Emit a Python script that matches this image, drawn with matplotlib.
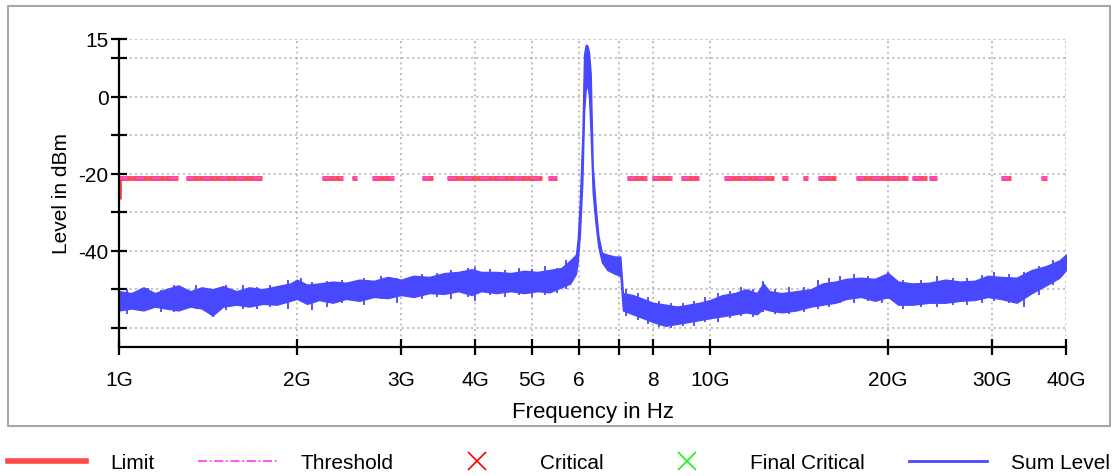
import matplotlib
matplotlib.use('Agg')
import matplotlib.pyplot as plt
from matplotlib.lines import Line2D
from matplotlib.patches import Rectangle

plt.rcParams['font.family'] = ['Liberation Sans', 'DejaVu Sans']

# Sum level envelope (frequency in GHz, upper / lower edge of the noisy trace in dBm)
freq_ghz = [1.00, 1.05, 1.10, 1.15, 1.20, 1.26, 1.32, 1.38, 1.44, 1.50,
            1.58, 1.66, 1.75, 1.85, 1.95, 2.00, 2.08, 2.18, 2.30, 2.42,
            2.55, 2.70, 2.85, 3.00, 3.15, 3.35, 3.55, 3.75, 3.95, 4.10,
            4.35, 4.60, 4.85, 5.10, 5.35, 5.60, 5.80, 5.93, 5.97, 6.02,
            6.08, 6.12, 6.16, 6.20, 6.24, 6.28, 6.33, 6.40, 6.47, 6.56,
            6.70, 6.90, 7.05, 7.12, 7.40, 7.70, 8.00, 8.40, 8.80, 9.20,
            9.60, 10.0, 10.5, 11.0, 11.5, 12.0, 12.3, 12.6, 13.2, 14.0,
            14.8, 15.5, 16.3, 17.0, 18.0, 19.0, 20.0, 20.8, 22.0, 23.5,
            25.0, 26.5, 28.0, 29.5, 31.0, 33.0, 35.0, 37.0, 39.0, 40.0]
sum_upper = [-50.5, -51.0, -49.5, -51.0, -50.0, -49.0, -50.5, -49.5, -50.0, -49.2,
             -50.5, -49.5, -50.0, -49.2, -48.5, -47.5, -48.8, -48.5, -48.0, -48.3,
             -47.5, -47.8, -46.8, -47.5, -46.5, -46.8, -45.8, -45.5, -44.8, -45.5,
             -45.5, -45.8, -45.2, -45.5, -45.0, -44.5, -42.5, -41.0, -37.0, -27.0,
             -10.0, 11.0, 13.5, 13.3, 11.5, 6.0, -18.0, -28.0, -36.0, -40.5,
             -41.0, -41.5, -41.5, -51.0, -51.5, -52.5, -53.5, -54.0, -54.5, -54.0,
             -53.5, -52.8, -51.5, -51.0, -50.0, -51.0, -48.5, -50.5, -51.0, -50.5,
             -50.0, -48.5, -48.0, -47.3, -47.0, -47.3, -45.8, -48.0, -48.5, -48.3,
             -47.5, -48.0, -47.8, -46.5, -46.8, -47.0, -45.0, -44.0, -42.5, -41.0]
sum_lower = [-55.5, -55.0, -55.5, -54.5, -55.0, -55.5, -54.5, -55.0, -56.8, -54.5,
             -54.0, -54.5, -53.8, -54.0, -53.0, -52.5, -53.8, -52.8, -53.5, -52.5,
             -53.0, -52.0, -52.3, -51.5, -52.0, -51.0, -51.2, -50.5, -51.5, -50.5,
             -51.0, -50.5, -51.0, -50.5, -50.8, -49.5, -48.5, -46.0, -43.0, -36.0,
             -22.0, -4.0, 2.0, 3.0, 0.0, -10.0, -25.0, -33.0, -39.0, -43.0,
             -45.0, -46.0, -46.5, -55.5, -56.5, -57.5, -58.5, -59.5, -59.0, -58.5,
             -58.0, -57.5, -57.0, -56.5, -56.0, -56.5, -55.0, -55.5, -56.0, -55.5,
             -54.5, -54.0, -53.5, -52.5, -52.0, -53.0, -52.0, -54.0, -54.0, -53.5,
             -53.5, -53.0, -52.8, -52.0, -52.5, -53.5, -51.0, -49.0, -47.0, -45.0]

# single noise spikes standing out of the band (GHz, bottom, top in dBm)
spike_ghz = [1.03, 1.12, 1.18, 1.24, 1.35, 1.44, 1.52, 1.62, 1.71, 1.80,
             1.93, 2.03, 2.12, 2.25, 2.38, 2.60, 2.78, 2.95, 3.25, 3.45,
             3.65, 3.90, 4.00, 4.25, 4.50, 4.75, 5.00, 5.25, 5.50, 5.70,
             7.20, 7.55, 7.85, 8.20, 8.60, 9.00, 9.40, 9.80, 10.3, 10.8,
             11.3, 11.8, 12.3, 12.9, 13.6, 14.4, 15.2, 15.9, 16.6, 17.5,
             18.5, 19.5, 20.0, 21.2, 22.7, 24.2, 25.8, 27.2, 28.8, 30.2,
             32.0, 34.0, 36.0, 38.0]
spike_low = [-56.5, -55.0, -56.0, -55.8, -55.0, -57.2, -55.5, -55.0, -55.0, -54.5,
             -55.0, -53.0, -55.5, -54.5, -53.5, -54.0, -52.5, -53.5, -52.5, -52.0,
             -52.5, -52.0, -53.0, -51.5, -52.0, -51.5, -52.0, -51.5, -51.0, -50.0,
             -57.0, -58.0, -59.0, -59.8, -60.0, -59.5, -59.5, -58.5, -58.5, -57.5,
             -57.0, -57.2, -56.0, -56.5, -56.5, -56.0, -55.0, -54.5, -53.5, -53.5,
             -53.0, -53.5, -52.5, -55.0, -54.5, -54.5, -54.0, -54.0, -53.5, -53.0,
             -53.5, -54.5, -51.5, -49.0]
spike_high = [-50.0, -49.8, -50.2, -49.0, -48.8, -50.0, -49.0, -49.0, -49.5, -48.8,
              -47.5, -47.2, -48.0, -47.8, -47.5, -47.0, -46.5, -47.0, -46.0, -45.8,
              -45.0, -44.5, -44.2, -44.8, -45.0, -44.5, -44.8, -44.0, -44.5, -42.5,
              -50.0, -51.0, -52.0, -53.0, -53.5, -53.5, -53.0, -52.0, -51.0, -50.5,
              -49.5, -50.0, -47.8, -50.0, -49.5, -49.5, -47.5, -47.0, -46.5, -46.0,
              -46.5, -46.5, -45.5, -47.5, -47.5, -46.5, -47.0, -47.0, -46.3, -45.5,
              -46.0, -45.5, -44.0, -42.5]

# Limit / threshold line pieces (GHz)
limit_level = -21
limit_start_level = -26.5
seg_start = [1.00, 1.298, 2.205, 2.479, 2.679, 3.255, 3.588, 5.318, 7.236, 7.976,
             8.930, 10.56, 13.23, 14.36, 15.23, 17.66, 21.96, 23.46, 31.05, 36.29]
seg_stop = [1.258, 1.746, 2.393, 2.527, 2.919, 3.398, 5.195, 5.508, 7.823, 8.624,
            9.577, 12.83, 13.55, 14.64, 16.33, 21.62, 23.28, 24.20, 32.29, 37.15]

x_ticks = [1, 2, 3, 4, 5, 6, 7, 8, 10, 20, 30, 40]
x_labels = ['1G', '2G', '3G', '4G', '5G', '6', '', '8', '10G', '20G', '30G', '40G']
y_ticks = [15, 10, 0, -10, -20, -30, -40, -50, -60]
y_labels = ['15', '', '0', '', '-20', '', '-40', '', '']

red = '#ff4848'
magenta = '#ff44ff'
blue = '#4848ff'

fig = plt.figure(figsize=(11.18, 4.77), dpi=100)
fig.patches.append(Rectangle((8 / 1118, 1 - 427 / 477), 1102 / 1118, 420 / 477,
                             transform=fig.transFigure, fill=False,
                             edgecolor='#a8a8a8', linewidth=1.5))
ax = fig.add_axes([119 / 1118, 1 - 348 / 477, 947 / 1118, 308 / 477])

hz = [f * 1e9 for f in freq_ghz]
ax.fill_between(hz, sum_lower, sum_upper, color=blue, linewidth=1.0, edgecolor=blue)
ax.vlines([f * 1e9 for f in spike_ghz], spike_low, spike_high, color=blue, lw=1.3)

# limit with threshold on top
ax.plot([1e9, 1e9], [limit_start_level, limit_level], color=red, lw=3.5,
        solid_capstyle='butt')
ax.plot([1e9, 1e9], [limit_start_level, limit_level], color=magenta, lw=1.5,
        dashes=(4, 1.5, 1, 1.5))
for a, b in zip(seg_start, seg_stop):
    ax.plot([a * 1e9, b * 1e9], [limit_level, limit_level], color=red, lw=3.5,
            solid_capstyle='butt')
    ax.plot([a * 1e9, b * 1e9], [limit_level, limit_level], color=magenta, lw=1.5,
            dashes=(4, 1.5, 1, 1.5))

ax.set_xscale('log')
ax.set_xlim(1e9, 40e9)
ax.set_ylim(-65, 15)
ax.set_xticks([t * 1e9 for t in x_ticks])
ax.set_xticklabels(x_labels)
ax.xaxis.set_minor_locator(matplotlib.ticker.NullLocator())
ax.set_yticks(y_ticks)
ax.set_yticklabels(y_labels)

for s in ['top', 'right']:
    ax.spines[s].set_visible(False)
for s in ['left', 'bottom']:
    ax.spines[s].set_linewidth(1.6)
ax.tick_params(axis='both', direction='inout', length=11, width=1.6,
               labelsize=15)
ax.tick_params(axis='x', pad=11)
ax.tick_params(axis='y', pad=2)
ax.grid(True, linestyle=(0, (1.2, 2)), color='#b4b4b4', linewidth=1.2)
ax.set_axisbelow(True)

ax.set_xlabel('Frequency in Hz', fontsize=16, labelpad=9)
ax.set_ylabel('Level in dBm', fontsize=15, labelpad=5)

handles = [
    Line2D([], [], color=red, lw=4),
    Line2D([], [], color=magenta, lw=1.3, dashes=(5, 1.5, 1, 1.5)),
    Line2D([], [], color='red', marker='x', ls='none', markersize=13, mew=1.2),
    Line2D([], [], color='#22ee22', marker='x', ls='none', markersize=13, mew=1.2),
    Line2D([], [], color=blue, lw=2),
]
labels = ['Limit', 'Threshold', 'Critical', 'Final Critical', 'Sum Level']
fig.legend(handles, labels, loc='center', bbox_to_anchor=(0.5, 1 - 464 / 477),
           ncol=5, frameon=False, fontsize=15, handlelength=3.75,
           handletextpad=1.15, columnspacing=2.13, borderpad=0)

fig.savefig('out.png', dpi=100)
